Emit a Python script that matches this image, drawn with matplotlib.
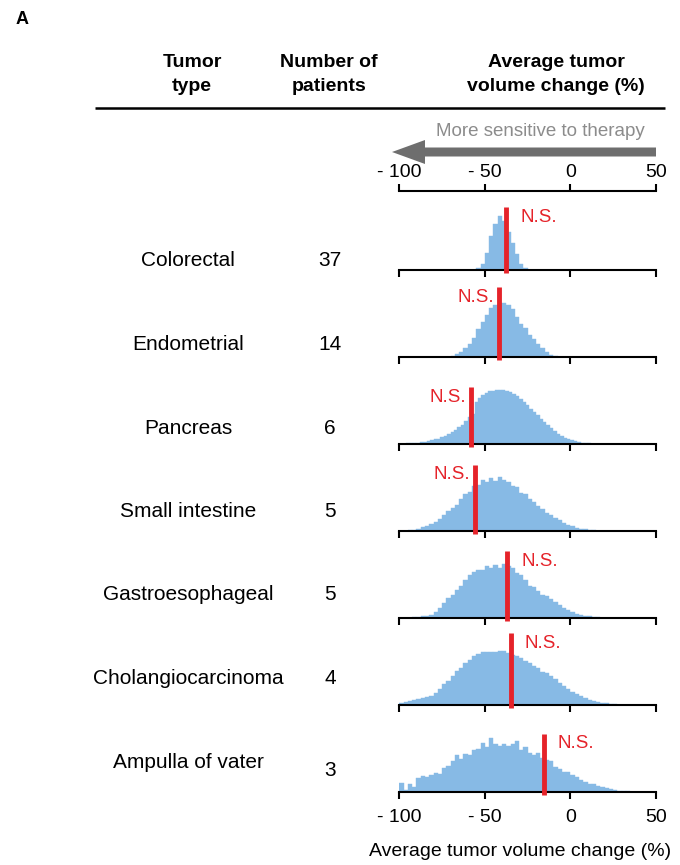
import matplotlib
matplotlib.use("Agg")
import matplotlib.pyplot as plt
from matplotlib.patches import FancyArrow
import numpy as np

plt.rcParams["font.family"] = ["Liberation Sans", "DejaVu Sans"]

# ---------------------------------------------------------------- data
tumor_types = ["Colorectal", "Endometrial", "Pancreas", "Small intestine",
               "Gastroesophageal", "Cholangiocarcinoma", "Ampulla of vater"]
n_patients = [37, 14, 6, 5, 5, 4, 3]

# observed average tumor volume change (%) for each tumor type
observed_change = [-37.6, -41.8, -58.3, -55.9, -36.8, -34.8, -15.5]

# null distributions: first bin edge, bin width, relative bin heights
hist_start = [-55, -70, -96, -95, -92.5, -100, -100]
hist_width = [2.5, 2.5, 2.0, 2.5, 2.5, 2.5, 2.5]

colorectal_hist = [0.03, 0.12, 0.31, 0.63, 0.86, 1.0, 0.9, 0.7, 0.5, 0.3, 0.11, 0.04]
endometrial_hist = [0.01, 0.05, 0.1, 0.17, 0.25, 0.36, 0.51, 0.65, 0.78, 0.9, 0.97, 1.0,
                    1.0, 0.97, 0.89, 0.75, 0.62, 0.53, 0.41, 0.33, 0.24, 0.16, 0.1, 0.04, 0.02]
pancreas_hist = [0.01, 0.015, 0.02, 0.025, 0.035, 0.045, 0.055, 0.07, 0.085, 0.1,
                 0.125, 0.15, 0.18, 0.215, 0.26, 0.31, 0.36, 0.43, 0.5, 0.56,
                 0.78, 0.85, 0.91, 0.95, 0.98, 0.99, 1.0, 1.0, 1.0, 0.98,
                 0.96, 0.93, 0.89, 0.84, 0.78, 0.72, 0.65, 0.59, 0.53, 0.47,
                 0.41, 0.35, 0.29, 0.24, 0.19, 0.15, 0.12, 0.09, 0.07, 0.05,
                 0.035, 0.025, 0.015, 0.01]
small_intestine_hist = [0.01, 0.025, 0.04, 0.07, 0.09, 0.13, 0.17, 0.23, 0.29, 0.37,
                        0.43, 0.49, 0.59, 0.69, 0.72, 0.83, 0.85, 0.94, 0.91, 0.98,
                        0.92, 1.0, 0.94, 0.91, 0.83, 0.82, 0.71, 0.69, 0.6, 0.53,
                        0.47, 0.4, 0.34, 0.29, 0.25, 0.2, 0.15, 0.12, 0.09, 0.06,
                        0.04, 0.03, 0.02, 0.01]
gastroesophageal_hist = [0.01, 0.02, 0.03, 0.04, 0.06, 0.11, 0.18, 0.27, 0.37, 0.43,
                         0.52, 0.6, 0.71, 0.8, 0.86, 0.88, 0.89, 0.96, 0.93, 0.99,
                         0.93, 1.0, 0.97, 0.93, 0.83, 0.8, 0.71, 0.6, 0.58, 0.5,
                         0.43, 0.4, 0.35, 0.29, 0.24, 0.18, 0.14, 0.11, 0.08, 0.06,
                         0.04, 0.03, 0.02, 0.01]
cholangiocarcinoma_hist = [0.04, 0.06, 0.07, 0.09, 0.12, 0.13, 0.15, 0.17, 0.22, 0.3,
                           0.38, 0.44, 0.54, 0.63, 0.69, 0.77, 0.84, 0.9, 0.94, 0.98,
                           0.99, 0.99, 0.99, 1.0, 1.0, 0.97, 0.92, 0.9, 0.87, 0.81,
                           0.78, 0.72, 0.68, 0.62, 0.59, 0.53, 0.48, 0.41, 0.36, 0.3,
                           0.25, 0.2, 0.16, 0.13, 0.1, 0.08, 0.06, 0.04, 0.03, 0.02, 0.01]
ampulla_hist = [0.17, 0.03, 0.14, 0.09, 0.26, 0.29, 0.28, 0.32, 0.35, 0.34,
                0.44, 0.48, 0.57, 0.68, 0.62, 0.71, 0.69, 0.77, 0.79, 0.9,
                0.83, 1.0, 0.88, 0.85, 0.88, 0.85, 0.88, 0.94, 0.77, 0.83,
                0.73, 0.68, 0.73, 0.63, 0.6, 0.57, 0.46, 0.43, 0.37, 0.37,
                0.31, 0.28, 0.22, 0.19, 0.15, 0.14, 0.11, 0.09, 0.07, 0.05,
                0.04, 0.02, 0.02, 0.01]

hist_heights = [colorectal_hist, endometrial_hist, pancreas_hist, small_intestine_hist,
                gastroesophageal_hist, cholangiocarcinoma_hist, ampulla_hist]

x_ticks = [-100, -50, 0, 50]
x_tick_labels = ["- 100", "- 50", "0", "50"]

# ---------------------------------------------------------------- layout (pixels)
W, H = 680, 865
AX_LEFT, AX_WIDTH = 399.3, 256.7
PANEL_H = 80
PEAK_PX = 54
row_baseline = [270 + 87 * i for i in range(7)]
row_label_y = [261 + 83.5 * i for i in range(7)]
count_label_y = row_label_y[:-1] + [row_label_y[-1] + 8]
marker_top_px = [63, 70, 57, 66, 67, 72, 58]
ns_side = ["right", "left", "left", "left", "right", "right", "right"]

HIST_COLOR = "#87BAE5"
RED = "#E5232A"
GRAY = "#6E6E6E"

fig = plt.figure(figsize=(W / 100, H / 100), dpi=100)


def px_axes(x0, y_top, w, h):
    return fig.add_axes([x0 / W, 1 - (y_top + h) / H, w / W, h / H])


overlay = fig.add_axes([0, 0, 1, 1])
overlay.set_xlim(0, W)
overlay.set_ylim(H, 0)
overlay.axis("off")

# panel letter and column headers
overlay.text(22, 20, "A", fontsize=13, fontweight="bold", ha="center", va="center")
header_kw = dict(fontsize=14, fontweight="bold", ha="center", va="center",
                 linespacing=1.55)
overlay.text(192, 74.5, "Tumor\ntype", **header_kw)
overlay.text(329, 74.5, "Number of\npatients", **header_kw)
overlay.text(556, 74.5, "Average tumor\nvolume change (%)", **header_kw)
overlay.plot([95, 665], [108, 108], color="black", lw=1.8, solid_capstyle="butt")

# direction hint
overlay.text(645, 132, "More sensitive to therapy", fontsize=13.5, color="#8C8C8C",
             ha="right", va="center")
overlay.add_patch(FancyArrow(656, 152, -264, 0, width=9, head_width=24, head_length=33,
                             length_includes_head=True, color=GRAY, lw=0))

# row labels
for name, n, y, yn in zip(tumor_types, n_patients, row_label_y, count_label_y):
    overlay.text(188, y, name, fontsize=15, ha="center", va="center")
    overlay.text(330, yn, str(n), fontsize=15, ha="center", va="center")

overlay.text(520, 852, "Average tumor volume change (%)", fontsize=14,
             ha="center", va="center")


def style_axis(ax):
    ax.set_xlim(-100, 50)
    ax.set_xticks(x_ticks)
    for s in ("left", "right"):
        ax.spines[s].set_visible(False)
    ax.set_yticks([])
    ax.patch.set_alpha(0)


# top scale
top_ax = px_axes(AX_LEFT, 191, AX_WIDTH, 20)
style_axis(top_ax)
top_ax.spines["bottom"].set_visible(False)
top_ax.spines["top"].set_linewidth(1.5)
top_ax.xaxis.tick_top()
top_ax.set_xticklabels(x_tick_labels)
top_ax.tick_params(axis="x", direction="out", length=5, width=1.5, labelsize=14, pad=2)

# histogram rows
for i in range(7):
    b = row_baseline[i]
    ax = px_axes(AX_LEFT, b - PANEL_H, AX_WIDTH, PANEL_H)
    style_axis(ax)
    ax.spines["top"].set_visible(False)
    ax.spines["bottom"].set_linewidth(1.5)
    ax.set_ylim(0, PANEL_H / PEAK_PX)

    heights = np.array(hist_heights[i])
    edges = hist_start[i] + hist_width[i] * np.arange(len(heights))
    ax.bar(edges, heights, width=hist_width[i], align="edge", color=HIST_COLOR,
           edgecolor=HIST_COLOR, linewidth=0.3)

    x_obs = observed_change[i]
    top = marker_top_px[i] / PEAK_PX
    ax.vlines(x_obs, -3 / PEAK_PX, top, color=RED, lw=3.5, clip_on=False, zorder=3)

    if ns_side[i] == "right":
        ax.annotate("N.S.", (x_obs, top), xytext=(14, -10), textcoords="offset pixels",
                    color=RED, fontsize=13.5, ha="left", va="center")
    else:
        ax.annotate("N.S.", (x_obs, top), xytext=(-5, -10), textcoords="offset pixels",
                    color=RED, fontsize=13.5, ha="right", va="center")

    if i == 6:
        ax.set_xticklabels(x_tick_labels)
        ax.tick_params(axis="x", direction="out", length=5, width=1.5, labelsize=14, pad=7)
    else:
        ax.set_xticklabels([])
        ax.tick_params(axis="x", direction="out", length=5, width=1.5)

fig.savefig("out.png", dpi=100)
